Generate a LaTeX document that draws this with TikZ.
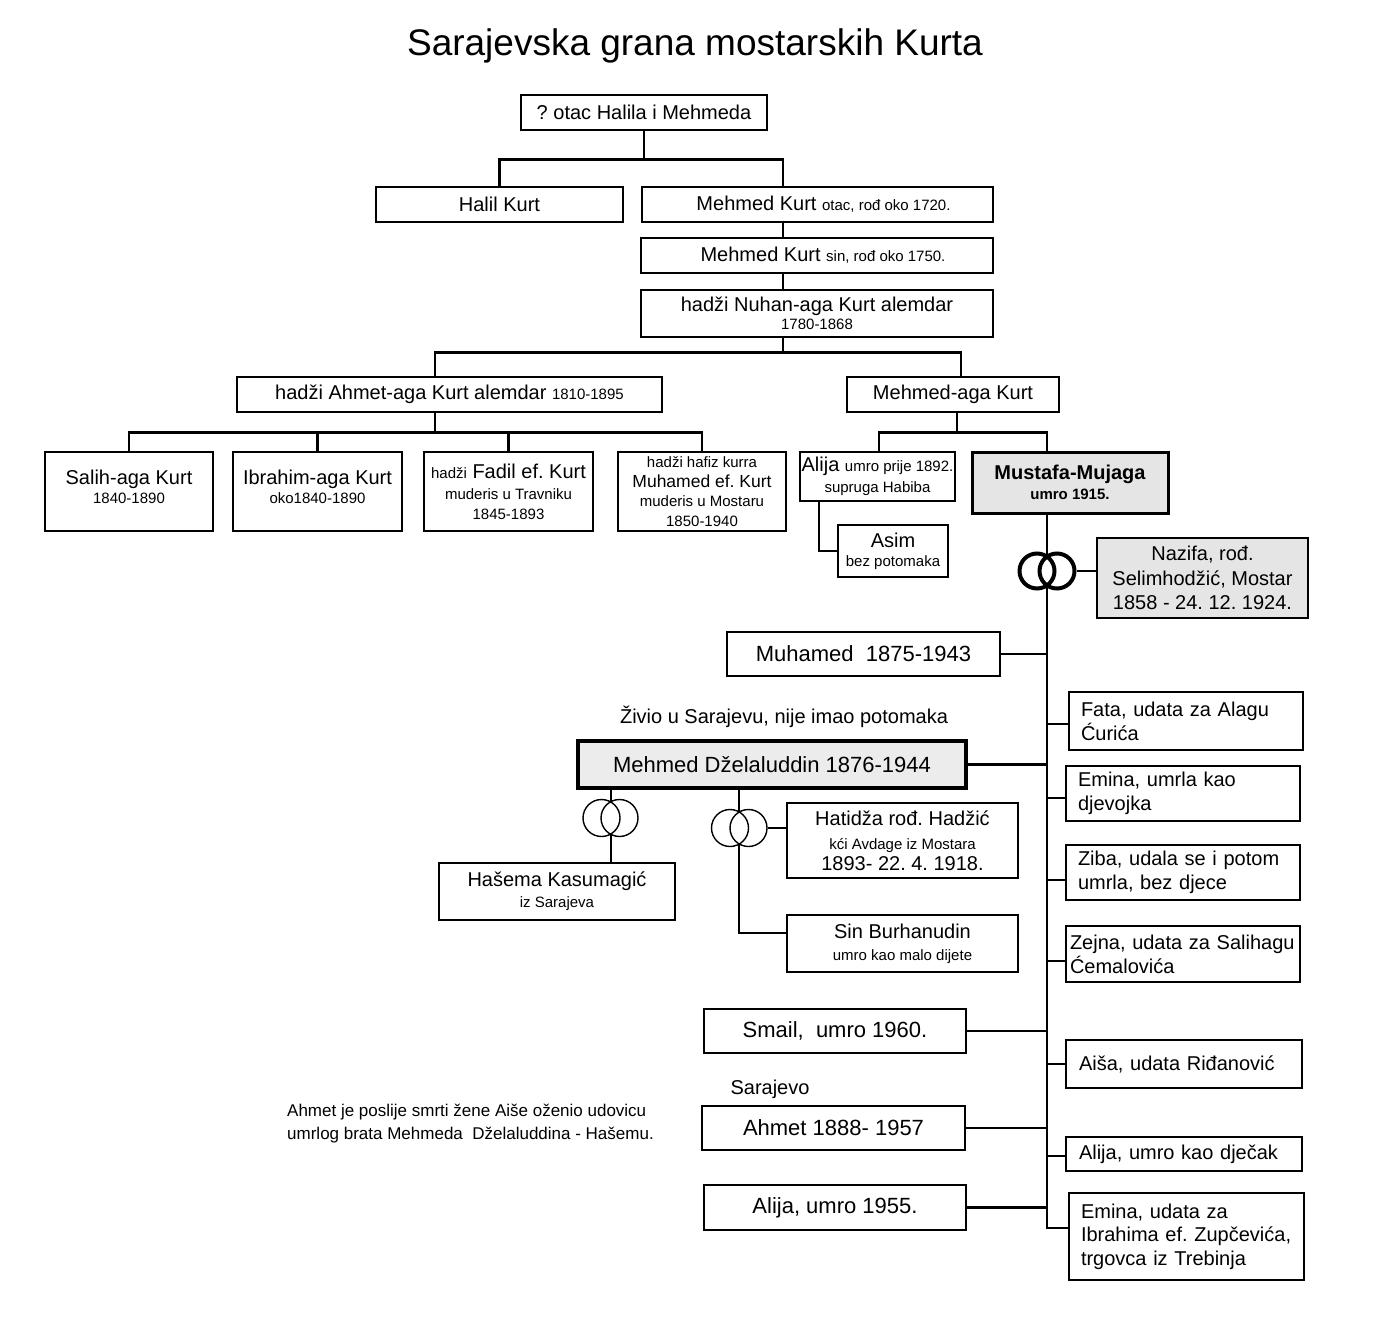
\documentclass[tikz,border=0pt]{standalone}
\usepackage{fontspec}
\setmainfont{Liberation Sans}
\frenchspacing
\hyphenpenalty=10000
\newcommand{\sm}{\fontsize{15}{18}\selectfont}
\begin{document}
\begin{tikzpicture}[x=1pt, y=-1pt,
    box/.style={draw, line width=1.3pt, inner sep=1pt, align=center,
      font=\fontsize{20}{21}\selectfont},
    kid/.style={box, line width=2.4pt, font=\fontsize{22}{26}\selectfont},
    wife/.style={box, line width=1.5pt},
    sister/.style={box, line width=2.2pt, align=left, text width=210pt,
      inner xsep=12pt, font=\fontsize{20}{24}\selectfont},
    link/.style={line width=2.5pt},
    thinlink/.style={line width=2pt},
    ring/.style={draw, circle, inner sep=0pt, minimum size=37pt, line width=1.4pt},
    bigring/.style={ring, minimum size=35pt, line width=4pt}]
  \useasboundingbox (0,0) rectangle (1400,1340);

  \node[font=\fontsize{37}{40}\selectfont] (title) at (695,46) {Sarajevska grana mostarskih Kurta};

  % upper generations
  \node[box, minimum width=246pt, minimum height=35pt] (top) at (644,112.5) {? otac Halila i Mehmeda};
  \node[box, minimum width=247pt, minimum height=35pt] (halil) at (499.5,204.5) {Halil Kurt};
  \node[box, minimum width=351pt, minimum height=35pt] (mehmedO) at (817.5,204.5) {\hspace*{12pt}Mehmed Kurt {\sm otac, rođ oko 1720.}};
  \node[box, minimum width=352pt, minimum height=35pt] (mehmedS) at (817,255.5) {\hspace*{12pt}Mehmed Kurt {\sm sin, rođ oko 1750.}};
  \node[box, minimum width=352pt, minimum height=47pt] (nuhan) at (817,313.5) {hadži Nuhan-aga Kurt alemdar\\[-3pt] {\sm 1780-1868}};
  \node[box, minimum width=425pt, minimum height=35pt] (ahmetaga) at (449.5,394.5) {hadži Ahmet-aga Kurt alemdar {\sm 1810-1895}};
  \node[box, minimum width=212pt, minimum height=35pt] (mehmedaga) at (953,394.5) {Mehmed-aga Kurt};

  \node[box, minimum width=168pt, minimum height=79pt] (salih) at (129,491.5) {Salih-aga Kurt\\[-2pt] {\sm 1840-1890}\\[-12pt] \mbox{}};
  \node[box, minimum width=169pt, minimum height=79pt] (ibrahim) at (317.5,491.5) {Ibrahim-aga Kurt\\[-2pt] {\sm oko1840-1890}\\[-12pt] \mbox{}};
  \node[box, minimum width=169pt, minimum height=79pt] (fadil) at (508.5,491.5) {{\sm hadži} Fadil ef. Kurt\\ {\sm muderis u Travniku}\\[-1pt] {\sm 1845-1893}};
  \node[box, minimum width=168pt, minimum height=79pt] (muhamedef) at (702,491.5) {{\sm hadži hafiz kurra}\\[-1.5pt] {\fontsize{17.5}{21}\selectfont Muhamed ef. Kurt}\\[-1.5pt] {\sm muderis u Mostaru}\\[-1.5pt] {\sm 1850-1940}};
  \node[box, minimum width=155pt, minimum height=49pt] (alijaM) at (877.5,476.5) {Alija {\sm umro prije 1892.}\\ {\sm supruga Habiba}};
  \node[box, minimum width=110pt, minimum height=52pt] (asim) at (893,551) {Asim\\[-2pt] {\sm bez potomaka}};
  \node[box, minimum width=196pt, minimum height=61pt, line width=3pt, fill=gray!20,
    font=\fontsize{20}{21}\selectfont\bfseries] (mustafa) at (1070,482.5) {Mustafa-Mujaga\\[-1pt] {\sm umro 1915.}};
  \node[box, minimum width=211pt, minimum height=80pt, line width=2.5pt, fill=gray!20] (nazifa) at (1202.5,578) {Nazifa, rođ.\\[3.5pt] Selimhodžić, Mostar\\[3.5pt] 1858 - 24. 12. 1924.};

  % children of Mustafa-Mujaga
  \node[kid, minimum width=273pt, minimum height=44pt] (muhamed) at (863.5,654) {Muhamed~ 1875-1943};
  \node[kid, minimum width=388pt, minimum height=47pt, line width=4.5pt, fill=gray!15] (dzel) at (772,764.5) {Mehmed Dželaluddin 1876-1944};
  \node[kid, minimum width=262pt, minimum height=44pt] (smail) at (835,1031) {Smail,~ umro 1960.};
  \node[kid, minimum width=263pt, minimum height=44pt] (ahmet) at (833.5,1128) {Ahmet 1888- 1957};
  \node[kid, minimum width=262pt, minimum height=45pt] (alija55) at (835,1207.5) {Alija, umro 1955.};

  \node[sister, minimum height=58pt] (fata) at (1186,721) {Fata, udata za Alagu\\Ćurića};
  \node[sister, minimum height=55pt] (emina1) at (1183,793.5) {Emina, umrla kao\\djevojka};
  \node[sister, minimum height=55pt] (ziba) at (1183,872.5) {Ziba, udala se i potom\\umrla, bez djece};
  \node[sister, minimum height=56pt, text width=226pt, inner xsep=4pt] (zejna) at (1183,954) {Zejna, udata za Salihagu\\Ćemalovića};
  \node[sister, minimum height=48pt, inner xsep=13pt] (aisa) at (1184,1064) {Aiša, udata Riđanović};
  \node[sister, minimum height=34pt, inner xsep=13pt] (alijaD) at (1184,1154) {Alija, umro kao dječak};
  \node[sister, minimum height=87pt, text width=211pt] (emina2) at (1186.5,1236.5) {Emina, udata za\\[-0.5pt]Ibrahima ef. Zupčevića,\\[-0.5pt]trgovca iz Trebinja};

  % wives and son of Mehmed Dzelaluddin
  \node[wife, minimum width=231pt, minimum height=75pt] (hatidza) at (902.5,840.5) {Hatidža rođ. Hadžić\\[3pt] {\sm kći Avdage iz Mostara}\\ 1893- 22. 4. 1918.};
  \node[wife, minimum width=236pt, minimum height=57pt] (hasema) at (557,891.5) {Hašema Kasumagić\\ {\sm iz Sarajeva}};
  \node[wife, minimum width=231pt, minimum height=57pt] (burhan) at (902.5,943.5) {Sin Burhanudin\\[1pt] {\sm umro kao malo dijete}};

  \node[font=\fontsize{20}{24}\selectfont] (ziv) at (784,717) {Živio u Sarajevu, nije imao potomaka};
  \node[font=\fontsize{20}{24}\selectfont] (sar) at (770,1089) {Sarajevo};
  \node[anchor=west, align=left, inner sep=0pt, font=\fontsize{17}{23}\selectfont] (note) at (287,1123.5) {Ahmet je poslije smrti žene Aiše oženio udovicu\\umrlog brata Mehmeda~ Dželaluddina - Hašemu.};

  % rings
  \node[bigring] (rL) at (1037,571) {};
  \node[bigring] (rR) at (1057,571) {};
  \node[ring] (hL) at (601.5,818) {};
  \node[ring] (hR) at (619.5,818) {};
  \node[ring] (dL) at (730,828) {};
  \node[ring] (dR) at (748.5,828) {};

  % connectors
  \coordinate (mO) at (783,187);
  \coordinate (xa) at (435,0);
  \coordinate (xm) at (961,0);
  \coordinate (xn) at (957,0);
  \coordinate (xl) at (879,0);
  \coordinate (xs) at (819,0);
  \coordinate (tk) at (1047,0);
  \coordinate (k1) at (1047,557);
  \coordinate (k2) at (1047,585);
  \coordinate (kEnd) at (1047,1228);
  \coordinate (h1) at (610.5,802);
  \coordinate (h2) at (610.5,834);
  \coordinate (d1) at (739.2,811.5);
  \coordinate (d2) at (739.2,844.5);
  \coordinate (d3) at (739.2,933);

  \draw[link] (top.south) -- ++(0,29) coordinate (bus0);
  \draw[link] (halil.north) |- (bus0) -| (mO);
  \draw[link] (mehmedO.south -| mO) -- (mehmedS.north -| mO);
  \draw[link] (mehmedS.south -| mO) -- (nuhan.north -| mO);
  \draw[link] (nuhan.south -| mO) -- ++(0,15) coordinate (bus1);
  \draw[link] (ahmetaga.north -| xa) |- (bus1) -| (mehmedaga.north -| xm);
  \draw[link] (ahmetaga.south -| xa) -- ++(0,20) coordinate (bus2);
  \draw[link] (salih.north) |- (bus2) -| (muhamedef.north);
  \draw[link] (ibrahim.north) -- (ibrahim.north |- bus2);
  \draw[link] (fadil.north) -- (fadil.north |- bus2);
  \draw[link] (mehmedaga.south -| xn) -- ++(0,20) coordinate (bus3);
  \draw[link] (alijaM.north -| xl) |- (bus3) -| (mustafa.north -| tk);
  \draw[link] (alijaM.south -| xs) |- (asim.west);

  \draw[link] (mustafa.south -| tk) -- (k1);
  \draw[link] (k2) -- (kEnd) -- ([yshift=8.5pt]emina2.west);
  \draw[link] (rR.east) -- (rR.east -| nazifa.west);
  \foreach \n in {muhamed, dzel, smail, ahmet, alija55}
    \draw[link] (\n.east) -- (\n.east -| tk);
  \foreach \n/\s in {fata/-3, emina1/-4.5, ziba/-7.5, zejna/-7, aisa/0, alijaD/-2}{
    \path ([yshift=\s pt]\n.west) coordinate (c);
    \draw[link] (c) -- (c -| tk);
  }

  \draw[thinlink] (dzel.south -| h1) -- (h1);
  \draw[thinlink] (h2) -- (hasema.north -| h2);
  \draw[thinlink] (dzel.south -| d1) -- (d1);
  \draw[thinlink] (d2) -- (d3) -- (d3 -| burhan.west);
  \draw[thinlink] (dR.east) -- (dR.east -| hatidza.west);
\end{tikzpicture}
\end{document}
